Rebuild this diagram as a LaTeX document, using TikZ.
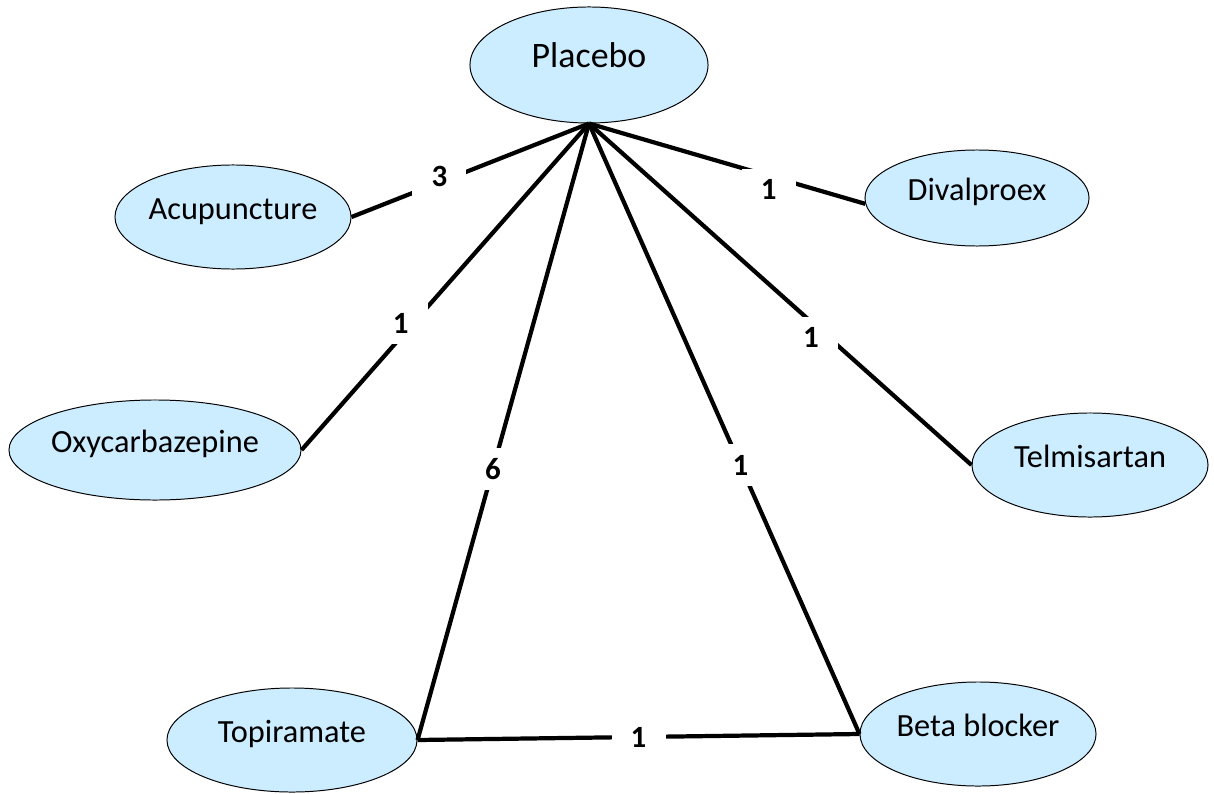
\documentclass[tikz,border=0pt]{standalone}
\usepackage{fontspec}
\setmainfont{Carlito}
\usepackage{tikz}
\usetikzlibrary{shapes.geometric,positioning,calc}
\definecolor{pillblue}{RGB}{204,236,255}

\begin{document}
\begin{tikzpicture}[x=0.025cm, y=-0.025cm,
  drug/.style={ellipse, draw=black, line width=0.7pt, fill=pillblue,
               inner xsep=-3pt, inner ysep=0pt, text height=11pt, text depth=8pt,
               font=\fontsize{23}{27}\selectfont},
  hub/.style={drug, font=\fontsize{25.5}{30}\selectfont},
  link/.style={line width=3pt, color=black},
  cnt/.style={fill=white, inner sep=0pt, minimum width=1.35cm,
              minimum height=1.05cm, font=\bfseries\fontsize{22}{26}\selectfont}
]
\useasboundingbox (0,0) rectangle (1214,794);

% treatments
\node[hub,  minimum width=5.95cm, minimum height=2.9cm]  (plac) at (589,65)  {Placebo};
\node[drug, minimum width=5.9cm,  minimum height=2.6cm]  (acu)  at (233,217) {Acupuncture};
\node[drug, minimum width=7.3cm,  minimum height=2.5cm]  (oxy)  at (155,450) {Oxycarbazepine};
\node[drug, minimum width=6.25cm, minimum height=2.6cm]  (topi) at (292,740) {Topiramate};
\node[drug, minimum width=5.9cm,  minimum height=2.6cm]  (beta) at (978,734) {Beta blocker};
\node[drug, minimum width=5.6cm,  minimum height=2.4cm]  (diva) at (977,198) {Divalproex};
\node[drug, minimum width=5.9cm,  minimum height=2.6cm]  (telm) at (1090,465) {Telmisartan};

% comparisons, with number of trials
\draw[link] (plac.south) -- node[cnt, pos=0.63, yshift=0.15cm] (n1) {3} (acu.east);
\draw[link] (plac.south) -- node[cnt, pos=0.655, yshift=0.35cm] (n2) {1} (oxy.east);
\draw[link] (plac.south) -- node[cnt, pos=0.56] (n3) {6} (topi.east);
\draw[link] (plac.south) -- node[cnt, pos=0.56] (n4) {1} (beta.west);
\draw[link] (plac.south) -- node[cnt, pos=0.65, yshift=-0.35cm] (n5) {1} (diva.183);
\draw[link] (plac.south) -- node[cnt, pos=0.58, yshift=-0.4cm] (n6) {1} (telm.west);
\draw[link] (topi.east) -- node[cnt, pos=0.5] (n7) {1} (beta.west);
\end{tikzpicture}
\end{document}
